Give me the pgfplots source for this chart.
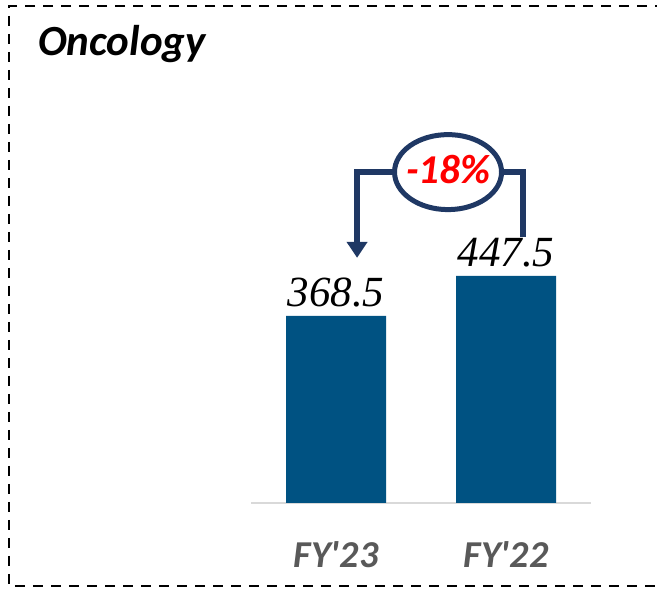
\documentclass[border=0pt]{standalone}
\usepackage{fontspec}
\setmainfont{Carlito}[Ligatures=TeXOff]
\newfontfamily\valfont{Liberation Serif}
\usepackage{pgfplots}
\pgfplotsset{compat=1.18}
\usetikzlibrary{arrows.meta}
\definecolor{barblue}{RGB}{0,82,130}
\definecolor{navy}{RGB}{31,56,100}
\definecolor{lblgray}{RGB}{89,89,89}
\definecolor{axgray}{RGB}{217,217,217}
\begin{document}
\begin{tikzpicture}
\useasboundingbox (0pt,0pt) rectangle (657pt,591pt);
% dashed frame (right side is cut off in the original)
\draw[line width=2.5pt, dash pattern=on 10pt off 8pt] (665pt,585pt) -- (9pt,585pt) -- (9pt,5pt) -- (665pt,5pt);
\node[anchor=base west, inner sep=0, font=\bfseries\itshape\fontsize{43}{48}\selectfont] at (38pt,535pt) {Oncology};
\begin{axis}[
  at={(251pt,88pt)}, anchor=south west,
  scale only axis, width=340pt, height=406pt,
  xmin=-0.5, xmax=1.5, ymin=0, ymax=800,
  axis y line=none, axis x line*=bottom,
  x axis line style={axgray, line width=1.5pt, -},
  xtick={0,1}, xticklabels={FY'23,FY'22},
  xtick style={draw=none},
  xticklabel style={font=\bfseries\itshape\fontsize{38}{40}\selectfont, text=lblgray, anchor=base, yshift=-60pt},
  ybar, bar width=100pt, clip=false,
  /pgf/number format/fixed, /pgf/number format/precision=1,
  /pgf/number format/fixed zerofill, /pgf/number format/assume math mode=true,
  nodes near coords,
  every node near coord/.append style={font=\valfont\itshape\fontsize{43}{43}\selectfont, text=black, anchor=base, yshift=9pt},
]
\addplot[fill=barblue, draw=none] coordinates {(0,368.5) (1,447.5)};
% change annotation
\draw[navy, line width=6pt, line join=miter] ([xshift=53pt]axis cs:0.659,652) -- (axis cs:1.1,652) -- (axis cs:1.1,524);
\draw[navy, line width=6pt, line join=miter, -{Triangle[width=20pt,length=16pt]}] ([xshift=-53pt]axis cs:0.659,652) -- (axis cs:0.124,652) -- (axis cs:0.124,483);
\draw[navy, line width=5pt, fill=white] (axis cs:0.659,652) ellipse [x radius=53.5pt, y radius=37.5pt];
\node[font=\bfseries\itshape\fontsize{41}{41}\selectfont, text=red, anchor=base] at ([yshift=-11pt]axis cs:0.659,652) {-18\%};
\end{axis}
\end{tikzpicture}
\end{document}
